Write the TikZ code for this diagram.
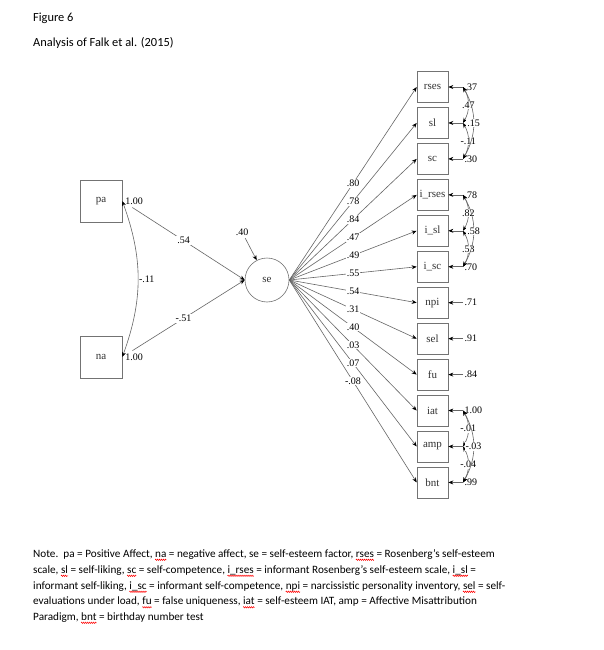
\documentclass[tikz,border=0pt]{standalone}
\usepackage{fontspec}
\setmainfont{Liberation Serif}
\newfontfamily\calfont{Carlito}
\usetikzlibrary{arrows.meta,decorations.pathmorphing}
\newsavebox\wbox
\newcommand\rw[1]{\sbox\wbox{#1}\usebox\wbox\llap{\pgfinterruptpicture\tikz[baseline=0pt,x=1pt,y=1pt]{\useasboundingbox (0,0) rectangle (\wd\wbox,0); \draw[red, line width=0.5pt, decorate, decoration={zigzag, amplitude=0.7pt, segment length=2pt}] (0,-2.8) -- (\wd\wbox,-2.8);}\endpgfinterruptpicture}}
\tikzset{
  lbl/.style={font=\fontsize{10}{12}\selectfont, inner sep=0.8pt},
  wl/.style={lbl, fill=white},
  mbox/.style={draw=black!55, line width=0.6pt, minimum size=31pt, inner sep=0pt,
    font=\fontsize{11}{12}\selectfont, text=black!80},
  bbox/.style={mbox, minimum size=42pt},
  lat/.style={draw=black!55, line width=0.6pt, circle, minimum size=44pt, inner sep=0pt,
    font=\fontsize{11}{12}\selectfont, text=black!80},
  tip/.tip={Stealth[length=5pt,width=4pt,color=black]},
  pth/.style={draw=black!60, line width=0.6pt, -tip},
  cov/.style={draw=black!60, line width=0.6pt, tip-tip},
  ttl/.style={font=\calfont\fontsize{12.4}{15}\selectfont, anchor=base west, inner sep=0pt},
  txt/.style={font=\calfont\fontsize{11.2}{15}\selectfont, anchor=base west, inner sep=0pt},
}
\begin{document}
\begin{tikzpicture}[x=1pt,y=-1pt]
\useasboundingbox[fill=white] (0,0) rectangle (604,650);
% title
\node[ttl] (t1) at (33,22) {Figure 6};
\node[ttl] (t2) at (33,47) {Analysis of Falk et al. (2015)};
% left part
\node[bbox] (pa) at (101,201) {pa};
\node[bbox] (na) at (101,357) {na};
\node[lat] (se) at (267,280) {se};
\draw[pth, shorten <=12pt] (pa.east) -- node[wl]{.54} (se.west);
\draw[pth, shorten <=12pt] (na.east) -- node[wl]{-.51} (se.west);
\draw[cov] (pa.east) to[bend left=20] node[lbl, anchor=west]{-.11} (na.east);
\node[lbl] (vpa) at (134,201) {1.00};
\node[lbl] (vna) at (134,357) {1.00};
\node[lbl] (e40) at (242,232) {.40};
\draw[pth, shorten <=2pt] (e40) -- (se);
% indicators
\foreach \n/\t/\l/\r [count=\i from 0] in {
  rses/rses/.80/.37, sl/sl/.78/, sc/sc/.84/.30,
  irses/i\_rses/.47/.78, isl/i\_sl/.49/, isc/i\_sc/.55/.70,
  npi/npi/.54/.71, sel/sel/.31/.91, fu/fu/.40/.84,
  iat/iat/.03/1.00, amp/amp/.07/, bnt/bnt/-.08/.99} {
  \node[mbox] (\n) at (432.5,87+35.95*\i) {\t};
  \draw[pth] (se.east) -- node[wl]{\l} (\n.west);
  \node[lbl, anchor=west, inner sep=1.5pt] (r\n) at (463,87+35.95*\i) {\r};
  \draw[pth] (r\n.west) -- (\n.east);
}
% residual covariances
\draw[cov] (rrses.west) to[bend left=30] node[wl]{.47} (rsl.west);
\draw[cov] (rsl.west) to[bend left=30] node[wl]{-.11} (rsc.west);
\draw[cov] (rrses.west) to[bend left=30] node[wl]{.15} (rsc.west);
\draw[cov] (rirses.west) to[bend left=30] node[wl]{.82} (risl.west);
\draw[cov] (risl.west) to[bend left=30] node[wl]{.53} (risc.west);
\draw[cov] (rirses.west) to[bend left=30] node[wl]{.58} (risc.west);
\draw[cov] (riat.west) to[bend left=30] node[wl]{-.01} (ramp.west);
\draw[cov] (ramp.west) to[bend left=30] node[wl]{-.04} (rbnt.west);
\draw[cov] (riat.west) to[bend left=30] node[wl]{-.03} (rbnt.west);
% note
\node[txt] (n1) at (33,557) {Note.\ \ pa = Positive Affect, \rw{na} = negative affect, se = self-esteem factor, \rw{rses} = Rosenberg’s self-esteem};
\node[txt] (n2) at (33,573) {scale, \rw{sl} = self-liking, \rw{sc} = self-competence, \rw{i\_rses} = informant Rosenberg’s self-esteem scale, \rw{i\_sl} =};
\node[txt] (n3) at (33,589) {informant self-liking, \rw{i\_sc} = informant self-competence, \rw{npi} = narcissistic personality inventory, \rw{sel} = self-};
\node[txt] (n4) at (33,604.5) {evaluations under load, \rw{fu} = false uniqueness, \rw{iat} = self-esteem IAT, amp = Affective Misattribution};
\node[txt] (n5) at (33,620) {Paradigm, \rw{bnt} = birthday number test};
\end{tikzpicture}
\end{document}
